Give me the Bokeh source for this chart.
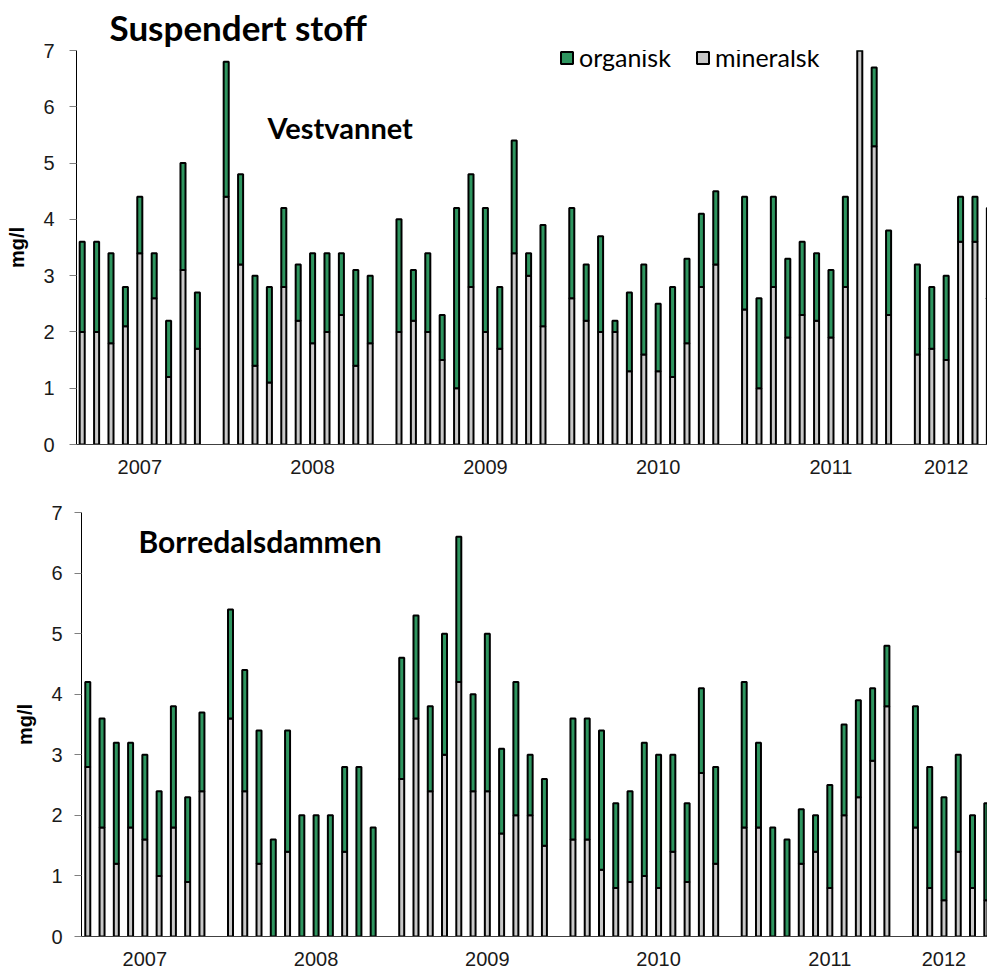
from bokeh.plotting import figure
from bokeh.models import Range1d, FixedTicker, Legend, LegendItem, Label, ColumnDataSource
from bokeh.embed import file_html
from bokeh.resources import INLINE

# ---------------- data ----------------
# sampling months per year (monthly samples, January not sampled)
months_2007 = [4, 5, 6, 7, 8, 9, 10, 11, 12]
months_2008 = [2, 3, 4, 5, 6, 7, 8, 9, 10, 11, 12]
months_2009 = [2, 3, 4, 5, 6, 7, 8, 9, 10, 11, 12]
months_2010 = [2, 3, 4, 5, 6, 7, 8, 9, 10, 11, 12]
months_2011 = [2, 3, 4, 5, 6, 7, 8, 9, 10, 11, 12]
months_2012 = [2, 3, 4, 5, 6, 7]

year_labels = ["2007", "2008", "2009", "2010", "2011", "2012"]
year_label_months = [(2007, 8), (2008, 8), (2009, 8), (2010, 8), (2011, 8), (2012, 4)]

# Vestvannet (mg/l)
vest_mineralsk = [2.0, 2.0, 1.8, 2.1, 3.4, 2.6, 1.2, 3.1, 1.7,
                  4.4, 3.2, 1.4, 1.1, 2.8, 2.2, 1.8, 2.0, 2.3, 1.4, 1.8,
                  2.0, 2.2, 2.0, 1.5, 1.0, 2.8, 2.0, 1.7, 3.4, 3.0, 2.1,
                  2.6, 2.2, 2.0, 2.0, 1.3, 1.6, 1.3, 1.2, 1.8, 2.8, 3.2,
                  2.4, 1.0, 2.8, 1.9, 2.3, 2.2, 1.9, 2.8, 7.5, 5.3, 2.3,
                  1.6, 1.7, 1.5, 3.6, 3.6, 2.6]
vest_organisk = [1.6, 1.6, 1.6, 0.7, 1.0, 0.8, 1.0, 1.9, 1.0,
                 2.4, 1.6, 1.6, 1.7, 1.4, 1.0, 1.6, 1.4, 1.1, 1.7, 1.2,
                 2.0, 0.9, 1.4, 0.8, 3.2, 2.0, 2.2, 1.1, 2.0, 0.4, 1.8,
                 1.6, 1.0, 1.7, 0.2, 1.4, 1.6, 1.2, 1.6, 1.5, 1.3, 1.3,
                 2.0, 1.6, 1.6, 1.4, 1.3, 1.2, 1.2, 1.6, 0.5, 1.4, 1.5,
                 1.6, 1.1, 1.5, 0.8, 0.8, 1.6]

# Borredalsdammen (mg/l)
borr_mineralsk = [2.8, 1.8, 1.2, 1.8, 1.6, 1.0, 1.8, 0.9, 2.4,
                  3.6, 2.4, 1.2, 0.0, 1.4, 0.0, 0.0, 0.0, 1.4, 0.0, 0.0,
                  2.6, 3.6, 2.4, 3.0, 4.2, 2.4, 2.4, 1.7, 2.0, 2.0, 1.5,
                  1.6, 1.6, 1.1, 0.8, 0.9, 1.0, 0.8, 1.4, 0.9, 2.7, 1.2,
                  1.8, 1.8, 0.0, 0.0, 1.2, 1.4, 0.8, 2.0, 2.3, 2.9, 3.8,
                  1.8, 0.8, 0.6, 1.4, 0.8, 0.6]
borr_organisk = [1.4, 1.8, 2.0, 1.4, 1.4, 1.4, 2.0, 1.4, 1.3,
                 1.8, 2.0, 2.2, 1.6, 2.0, 2.0, 2.0, 2.0, 1.4, 2.8, 1.8,
                 2.0, 1.7, 1.4, 2.0, 2.4, 1.6, 2.6, 1.4, 2.2, 1.0, 1.1,
                 2.0, 2.0, 2.3, 1.4, 1.5, 2.2, 2.2, 1.6, 1.3, 1.4, 1.6,
                 2.4, 1.4, 1.8, 1.6, 0.9, 0.6, 1.7, 1.5, 1.6, 1.2, 1.0,
                 2.0, 2.0, 1.7, 1.6, 1.2, 1.6]

GREEN = "#2E955F"
GRAY = "#C8C8C8"
AXIS_FONT = "Liberation Sans"
TEXT_FONT = "Lato"

# ---------------- helpers ----------------
FIRST_YEAR, FIRST_MONTH = 2007, 4


def month_index(y, m):
    return (y - FIRST_YEAR) * 12 + (m - FIRST_MONTH)


sample_x = []
for yr, ms in [(2007, months_2007), (2008, months_2008), (2009, months_2009),
               (2010, months_2010), (2011, months_2011), (2012, months_2012)]:
    for m in ms:
        sample_x.append(month_index(yr, m))

label_ticks = [month_index(y, m) for (y, m) in year_label_months]


def make_panel(mineral, organic, height, border_left, border_top, border_bottom,
               x_start, x_end, tick_standoff, xlab_standoff, ylab_standoff):
    p = figure(width=987, height=height, output_backend="svg", toolbar_location=None,
               x_range=Range1d(x_start, x_end), y_range=Range1d(0, 7),
               min_border_left=border_left, min_border_right=0,
               min_border_top=border_top, min_border_bottom=border_bottom)
    p.outline_line_color = None
    p.xgrid.visible = False
    p.ygrid.visible = False
    p.background_fill_color = "white"
    p.border_fill_color = "white"

    src = ColumnDataSource(dict(x=sample_x, mineralsk=mineral, organisk=organic))
    rs = p.vbar_stack(["mineralsk", "organisk"], x="x", width=0.35, source=src,
                      fill_color=[GRAY, GREEN], line_color="black", line_width=2)

    # y axis
    ya = p.yaxis[0]
    ya.ticker = FixedTicker(ticks=[0, 1, 2, 3, 4, 5, 6, 7])
    ya.minor_tick_line_color = None
    ya.major_tick_in = 0
    ya.major_tick_out = 7
    ya.major_tick_line_color = "#7F7F7F"
    ya.axis_line_color = "black"
    ya.major_label_text_font = AXIS_FONT
    ya.major_label_text_font_size = "20px"
    ya.major_label_text_color = "#1A1A1A"
    ya.major_label_standoff = tick_standoff
    ya.axis_label = "mg/l"
    ya.axis_label_text_font = AXIS_FONT
    ya.axis_label_text_font_size = "20px"
    ya.axis_label_text_font_style = "bold"
    ya.axis_label_text_color = "black"
    ya.axis_label_standoff = ylab_standoff

    # x axis
    xa = p.xaxis[0]
    xa.ticker = FixedTicker(ticks=label_ticks)
    xa.major_label_overrides = {t: lab for t, lab in zip(label_ticks, year_labels)}
    xa.minor_tick_line_color = None
    xa.major_tick_line_color = None
    xa.major_tick_in = 0
    xa.major_tick_out = 0
    xa.axis_line_color = "#404040"
    xa.major_label_text_font = AXIS_FONT
    xa.major_label_text_font_size = "20px"
    xa.major_label_text_color = "#1A1A1A"
    xa.major_label_standoff = xlab_standoff
    return p, rs


# top panel: Vestvannet
p1, rs1 = make_panel(vest_mineralsk, vest_organisk, height=482, border_left=76,
                     border_top=49, border_bottom=38, x_start=-0.396, x_end=62.87,
                     tick_standoff=15, xlab_standoff=15, ylab_standoff=12)
p1.title.text = "Suspendert stoff"
p1.title.text_font = TEXT_FONT
p1.title.text_font_size = "35px"
p1.title.text_font_style = "bold"
p1.title.text_color = "black"
p1.title.align = "left"
p1.title.offset = 33
p1.title.standoff = 6
p1.add_layout(Label(x=191, y=300, x_units="screen", y_units="screen",
                    text="Vestvannet", text_font=TEXT_FONT, text_font_size="29px",
                    text_font_style="bold", text_color="black"))
legend = Legend(items=[LegendItem(label="organisk", renderers=[rs1[1]]),
                       LegendItem(label="mineralsk", renderers=[rs1[0]])],
                location=(483, 372), orientation="horizontal",
                glyph_width=15, glyph_height=15, label_standoff=5, spacing=24,
                padding=0, margin=0, border_line_color=None, background_fill_alpha=0,
                label_text_font=TEXT_FONT, label_text_font_size="25px",
                label_text_color="black")
p1.add_layout(legend)

# bottom panel: Borredalsdammen
p2, rs2 = make_panel(borr_mineralsk, borr_organisk, height=492, border_left=81,
                     border_top=30, border_bottom=38, x_start=-0.44, x_end=63.05,
                     tick_standoff=12, xlab_standoff=15, ylab_standoff=12)
p2.add_layout(Label(x=57, y=378, x_units="screen", y_units="screen",
                    text="Borredalsdammen", text_font=TEXT_FONT, text_font_size="30px",
                    text_font_style="bold", text_color="black"))

open("out.html", "w").write(file_html([p1, p2], INLINE))
